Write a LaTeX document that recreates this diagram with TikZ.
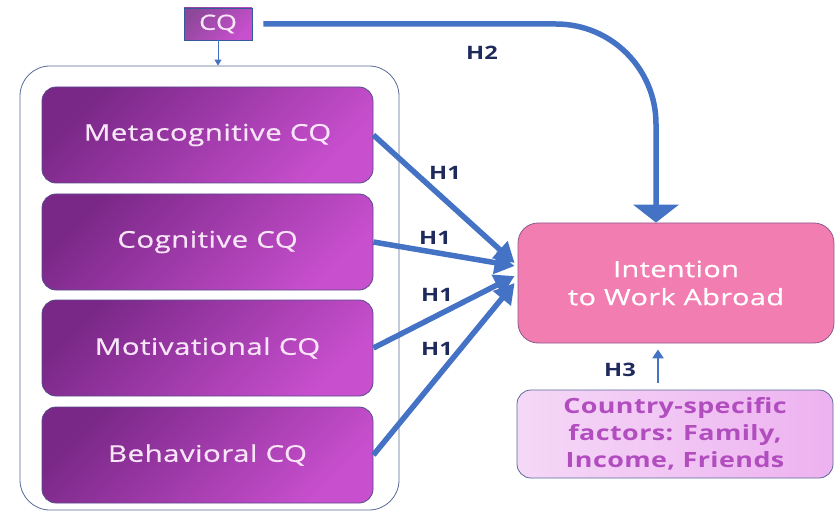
\documentclass[tikz,border=0pt]{standalone}
\usepackage{fontspec}
\setmainfont{Open Sans}[FakeStretch=1.28,LetterSpace=2.0]
\newfontfamily\boxfont{Open Sans}[FakeStretch=1.28,LetterSpace=2.0,FakeBold=0.6]
\usetikzlibrary{arrows.meta}

\definecolor{arrowblue}{HTML}{4472C4}
\definecolor{labelnavy}{HTML}{1F2A5C}
\definecolor{purpledark}{HTML}{7A2888}
\definecolor{purplelight}{HTML}{C84FCE}
\definecolor{boxline}{HTML}{5B4C8C}
\definecolor{frameline}{HTML}{5A6A98}
\definecolor{intentfill}{HTML}{F27DB0}
\definecolor{intentline}{HTML}{8C5A90}
\definecolor{factorleft}{HTML}{F5D8F7}
\definecolor{factorright}{HTML}{EDB2F0}
\definecolor{factortext}{HTML}{B24DC0}
\definecolor{dimtext}{HTML}{F8E6F8}

\tikzset{
  dimbox/.style={rounded corners=14pt, draw=boxline, line width=0.8pt,
    top color=purpledark, bottom color=purplelight, shading angle=45,
    minimum width=331pt, minimum height=96pt,
    text=dimtext, font=\boxfont\fontsize{23}{26}\selectfont},
  cqbox/.style={draw=arrowblue!80!black, line width=0.8pt,
    top color=purpledark!85!white, bottom color=purplelight, shading angle=45,
    minimum width=68pt, minimum height=32pt,
    text=dimtext, font=\boxfont\fontsize{21}{24}\selectfont},
  intentbox/.style={rounded corners=20pt, draw=intentline, line width=0.8pt,
    fill=intentfill, minimum width=316pt, minimum height=120pt,
    text=white, align=center, font=\boxfont\fontsize{22.5}{28}\selectfont},
  factorbox/.style={rounded corners=14pt, draw=frameline, line width=0.8pt,
    left color=factorleft, right color=factorright,
    minimum width=316pt, minimum height=88pt,
    text=factortext, align=center, font=\bfseries\fontsize{21}{27}\selectfont},
  hyp/.style={text=labelnavy, font=\bfseries\fontsize{18.5}{20}\selectfont},
  bigarrow/.style={draw=arrowblue, line width=5.5pt,
    -{Triangle[width=22pt,length=20pt]}},
  toparrow/.style={draw=arrowblue, line width=5.5pt,
    -{Triangle[width=45pt,length=18pt]}},
  thinarrow/.style={draw=arrowblue, line width=2.8pt,
    -{Triangle[width=11pt,length=9pt]}},
  smallarrow/.style={draw=arrowblue, line width=1pt,
    -{Triangle[width=7pt,length=6pt]}},
}

\begin{document}
\begin{tikzpicture}[x=1pt,y=-1pt]
  \useasboundingbox (0,0) rectangle (835,513);

  % grouping frame around the four CQ dimensions
  \node[draw=frameline, line width=0.8pt, rounded corners=30pt,
        minimum width=379pt, minimum height=444pt] (frame) at (209.5,288) {};

  % the four dimensions
  \node[dimbox] (meta)  at (207.5,135) {Metacognitive CQ};
  \node[dimbox] (cog)   at (207.5,242) {Cognitive CQ};
  \node[dimbox] (motiv) at (207.5,348) {Motivational CQ};
  \node[dimbox] (behav) at (207.5,455) {Behavioral CQ};

  % overall CQ
  \node[cqbox] (cq) at (218,24) {CQ};

  % outcome and moderating factors
  \node[intentbox] (intent) at (676,283) {Intention\\to Work Abroad};
  \node[factorbox] (factors) at (675,434)
    {Country-specific\\factors: Family,\\Income, Friends};

  % CQ feeds into its dimensions
  \draw[smallarrow] (cq.south) -- (cq.south |- frame.north);

  % H2: overall CQ to intention
  \draw[toparrow, rounded corners=100pt, shorten <=11pt]
    (cq.east) -| ([xshift=-20pt]intent.north);

  % H1: each dimension to intention
  \draw[bigarrow] (meta.east)  -- ([xshift=-3pt,yshift=20pt]intent.west);
  \draw[bigarrow] (cog.east)   -- ([xshift=-3pt,yshift=17pt]intent.west);
  \draw[bigarrow] (motiv.east) -- ([xshift=-3pt,yshift=7pt]intent.west);
  \draw[bigarrow] (behav.east) -- ([xshift=-3pt,yshift=0pt]intent.west);

  % H3: country-specific factors to intention
  \draw[thinarrow, shorten <=7pt, shorten >=6pt]
    ([xshift=-17pt]factors.north) -- ([xshift=-17pt]factors.north |- intent.south);

  % hypothesis labels
  \node[hyp] (h2)  at (482,53)  {H2};
  \node[hyp] (h1a) at (445,173) {H1};
  \node[hyp] (h1b) at (435,238) {H1};
  \node[hyp] (h1c) at (437,295) {H1};
  \node[hyp] (h1d) at (437,349) {H1};
  \node[hyp] (h3)  at (620,370) {H3};
\end{tikzpicture}
\end{document}
